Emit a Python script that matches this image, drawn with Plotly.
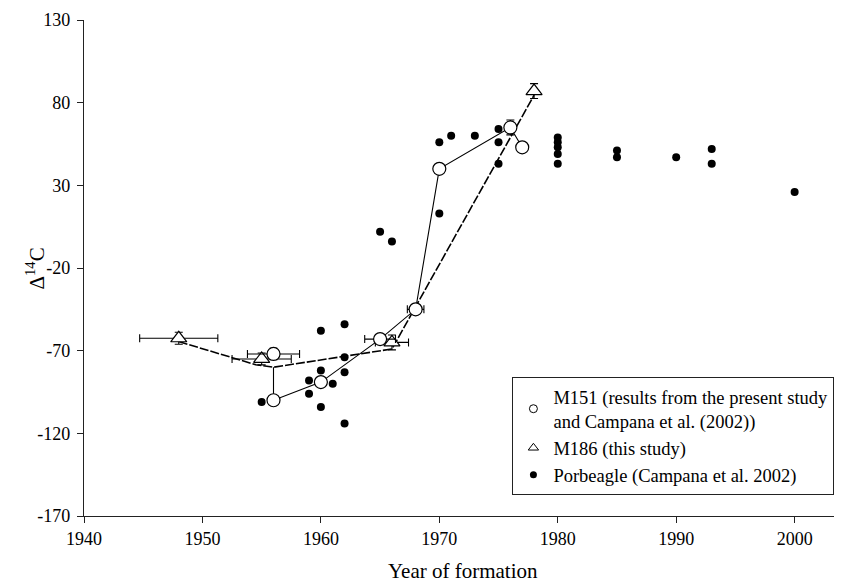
import plotly.graph_objects as go

# ---------------- data ----------------
# M151 (open circles)
m151_year = [1956, 1956, 1960, 1965, 1968, 1970, 1976, 1977]
m151_d14c = [-72, -100, -89, -63, -45, 40, 65, 53]
m151_xerr = [2.2, 0, 0, 1.3, 0.7, 0, 0, 0]
m151_yerr = [3.5, 0, 0, 0, 3, 0, 4.5, 0]
# solid connecting curve for M151
m151_line_year = [1956, 1956, 1960, 1965, 1968, 1970, 1976, 1977]
m151_line_d14c = [-80, -100, -89, -63, -45, 40, 65, 53]

# M186 (open triangles)
m186_year = [1948, 1955, 1966, 1978]
m186_d14c = [-62.5, -75, -65, 87]
m186_xerr = [3.3, 2.5, 1.4, 0]
m186_yerr = [3.6, 3.6, 4.5, 4.5]
# dashed connecting curve for M186
m186_line_year = [1948, 1954.5, 1956, 1966, 1978]
m186_line_d14c = [-64.5, -78.5, -80, -69, 84.5]

# Porbeagle (filled dots)
porb_year = [1955, 1959, 1959, 1960, 1960, 1960, 1961, 1962, 1962, 1962, 1962,
             1965, 1966, 1970, 1970, 1971, 1973, 1975, 1975, 1975,
             1980, 1980, 1980, 1980, 1980, 1985, 1985, 1990, 1993, 1993, 2000]
porb_d14c = [-101, -88, -96, -58, -82, -104, -90, -54, -74, -83, -114,
             2, -4, 13, 56, 60, 60, 64, 56, 43,
             59, 56, 53, 49, 43, 51, 47, 47, 52, 43, 26]

x_ticks = [1940, 1950, 1960, 1970, 1980, 1990, 2000]
y_ticks = [-170, -120, -70, -20, 30, 80, 130]

legend_labels = ["M151 (results from the present study<br>and Campana et al. (2002))",
                 "M186 (this study)",
                 "Porbeagle (Campana et al. 2002)"]

FONT = "Liberation Serif, Times New Roman, serif"

fig = go.Figure()

# connecting lines
fig.add_trace(go.Scatter(x=m186_line_year, y=m186_line_d14c, mode="lines",
                         line=dict(color="black", width=1.6, dash="9px,2px"),
                         showlegend=False, hoverinfo="skip"))
fig.add_trace(go.Scatter(x=m151_line_year, y=m151_line_d14c, mode="lines",
                         line=dict(color="black", width=1.1),
                         showlegend=False, hoverinfo="skip"))

# porbeagle dots
fig.add_trace(go.Scatter(x=porb_year, y=porb_d14c, mode="markers",
                         marker=dict(symbol="circle", size=8, color="black"),
                         showlegend=False))

# M186 triangles
fig.add_trace(go.Scatter(x=m186_year, y=m186_d14c, mode="markers",
                         marker=dict(symbol="triangle-up", size=14, color="white",
                                     line=dict(color="black", width=1.2)),
                         error_x=dict(type="data", array=m186_xerr, color="black",
                                      thickness=1.1, width=4),
                         error_y=dict(type="data", array=m186_yerr, color="black",
                                      thickness=1.1, width=4),
                         showlegend=False))

# M151 circles
fig.add_trace(go.Scatter(x=m151_year, y=m151_d14c, mode="markers",
                         marker=dict(symbol="circle", size=13, color="white",
                                     line=dict(color="black", width=1.2)),
                         error_x=dict(type="data", array=m151_xerr, color="black",
                                      thickness=1.1, width=4),
                         error_y=dict(type="data", array=m151_yerr, color="black",
                                      thickness=1.1, width=4),
                         showlegend=False))

# legend entries (small symbols as in the reference legend)
fig.add_trace(go.Scatter(x=[None], y=[None], mode="markers", name=legend_labels[0],
                         marker=dict(symbol="circle", size=8, color="white",
                                     line=dict(color="black", width=1))))
fig.add_trace(go.Scatter(x=[None], y=[None], mode="markers", name=legend_labels[1],
                         marker=dict(symbol="triangle-up", size=9, color="white",
                                     line=dict(color="black", width=1))))
fig.add_trace(go.Scatter(x=[None], y=[None], mode="markers", name=legend_labels[2],
                         marker=dict(symbol="circle", size=7, color="black")))

axis_common = dict(showline=True, linecolor="#222", linewidth=1.3, ticks="outside",
                   ticklen=6, tickwidth=1.3, tickcolor="#222", showgrid=False,
                   zeroline=False, tickfont=dict(family=FONT, size=18, color="black"))

fig.update_xaxes(range=[1940, 2004], tickvals=x_ticks, ticktext=[str(v) for v in x_ticks],
                 **axis_common)
fig.update_yaxes(range=[-170, 130], tickvals=y_ticks, ticktext=[str(v) for v in y_ticks],
                 ticklabelstandoff=3, **axis_common)

# page body adds an 8px margin, so the figure is sized to fill the rest of the window
fig.update_layout(
    width=834, height=575,
    margin=dict(l=76, r=0, t=12, b=67),
    plot_bgcolor="white", paper_bgcolor="white",
    font=dict(family=FONT, size=18, color="black"),
    legend=dict(x=0.99, xanchor="right", y=0.042, yanchor="bottom",
                bgcolor="white", bordercolor="#222", borderwidth=1,
                font=dict(family=FONT, size=18.5, color="black"),
                tracegroupgap=0, itemwidth=30),
    annotations=[
        dict(text="Δ<sup>14</sup>C", textangle=-90, xref="paper", yref="paper",
             x=-0.064, y=0.5, xanchor="center", yanchor="middle", showarrow=False,
             font=dict(family=FONT, size=21, color="black")),
        dict(text="Year of formation", xref="paper", yref="paper",
             x=0.5, y=-0.11, xanchor="center", yanchor="middle", showarrow=False,
             font=dict(family=FONT, size=21, color="black")),
    ],
)

fig.write_html("out.html")
